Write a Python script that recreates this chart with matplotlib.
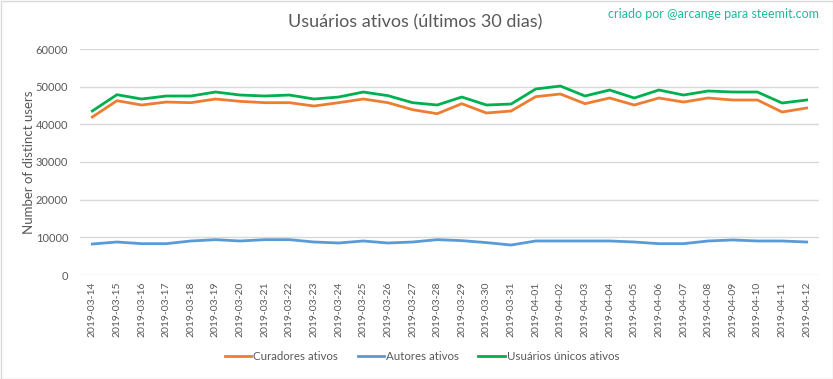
import matplotlib
matplotlib.use("Agg")
import matplotlib.pyplot as plt
from matplotlib.patches import Rectangle

dates = ["2019-03-14", "2019-03-15", "2019-03-16", "2019-03-17", "2019-03-18", "2019-03-19",
         "2019-03-20", "2019-03-21", "2019-03-22", "2019-03-23", "2019-03-24", "2019-03-25",
         "2019-03-26", "2019-03-27", "2019-03-28", "2019-03-29", "2019-03-30", "2019-03-31",
         "2019-04-01", "2019-04-02", "2019-04-03", "2019-04-04", "2019-04-05", "2019-04-06",
         "2019-04-07", "2019-04-08", "2019-04-09", "2019-04-10", "2019-04-11", "2019-04-12"]

curadores = [41940, 46280, 45130, 45920, 45750, 46720, 46100, 45750, 45750, 44860,
             45750, 46720, 45750, 43890, 42820, 45480, 43010, 43540, 47340, 48050,
             45480, 46990, 45130, 46990, 45920, 46990, 46460, 46460, 43270, 44330]

autores = [8230, 8760, 8320, 8320, 9030, 9380, 9030, 9380, 9380, 8760,
           8500, 9030, 8500, 8760, 9380, 9120, 8600, 7960, 9030, 9030,
           9030, 9030, 8760, 8320, 8320, 9030, 9300, 9030, 9030, 8760]

unicos = [43540, 47870, 46720, 47520, 47520, 48580, 47780, 47520, 47780, 46720,
          47250, 48580, 47610, 45750, 45130, 47250, 45130, 45390, 49380, 50170,
          47520, 49110, 46990, 49110, 47780, 48850, 48580, 48580, 45660, 46460]

series_names = ["Curadores ativos", "Autores ativos", "Usuários únicos ativos"]
colors = ["#ED7D31", "#5B9BD5", "#00B050"]
yticks = [0, 10000, 20000, 30000, 40000, 50000, 60000]

plt.rcParams['font.family'] = ['Lato', 'DejaVu Sans']

fig = plt.figure(figsize=(8.33, 3.79), dpi=100)
ax = fig.add_axes([80/833, 1 - 275/379, (819-80)/833, (275-49)/379])

x = list(range(len(dates)))
for vals, name, c in zip([curadores, autores, unicos], series_names, colors):
    ax.plot(x, vals, color=c, lw=2, label=name, solid_joinstyle='round')

ax.set_xlim(-0.5, len(dates) - 0.5)
ax.set_ylim(0, 60000)
ax.set_yticks(yticks)
ax.set_yticklabels([str(v) for v in yticks])
ax.set_xticks(x)
ax.set_xticklabels(dates, rotation=90)
ax.tick_params(axis='both', length=0, labelcolor='#595959')
ax.tick_params(axis='y', pad=8.5, labelsize=8)
ax.tick_params(axis='x', pad=5, labelsize=7.5)
ax.grid(axis='y', color='#D9D9D9', lw=1)
ax.set_axisbelow(True)
for s in ax.spines.values():
    s.set_visible(False)
ax.set_ylabel("Number of distinct users", fontsize=9.5, color='#595959')
ax.yaxis.set_label_coords((35 - 80) / 739, 0.5)

fig.text(415/833, 1 - 22/379, "Usuários ativos (últimos 30 dias)", ha='center', va='center',
         fontsize=13, color='#595959')
fig.text(819/833, 1 - 14/379, "criado por @arcange para steemit.com", ha='right', va='center',
         fontsize=9, color='#1ABC9C')

leg = fig.legend(loc='center', bbox_to_anchor=(422/833, 1 - 357/379), ncol=3, frameon=False,
                 fontsize=8.3, handlelength=2.3, columnspacing=1.7, handletextpad=0.15)
for t in leg.get_texts():
    t.set_color('#595959')

fig.patches.append(Rectangle((0.5/833, 0.5/379), 1 - 1/833, 1 - 1/379, transform=fig.transFigure,
                             fill=False, edgecolor='#D9D9D9', lw=1))

fig.savefig("out.png", dpi=100)
